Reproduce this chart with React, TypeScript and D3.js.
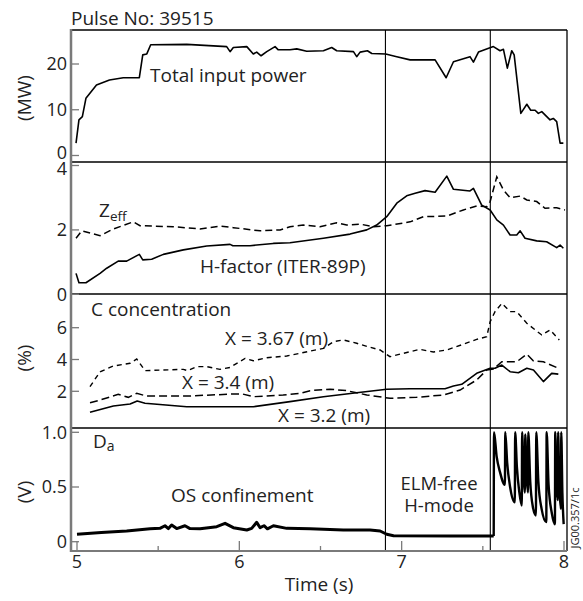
import React from "react";
import * as d3 from "d3";

// ---------- data ----------
const xTicks = [5, 6, 7, 8];
const xMinorTicks = [5.5, 6.5, 7.5];
const phaseBoundaries = [6.9, 7.546];

const powerTicks = [0, 10, 20];
const hTicks = [0, 2, 4];
const cTicks = [2, 4, 6];
const daTicks = [0, 0.5, 1.0];
const daTickLabels = ["0", "0.5", "1.0"];

const totalPower: [number, number][] = [
  [4.994, 2.7], [5.012, 7.8], [5.033, 8.5], [5.055, 12.5], [5.12, 15.4], [5.2, 16.5],
  [5.285, 17.0], [5.384, 17.0], [5.405, 22.0], [5.43, 22.2], [5.454, 24.2], [5.676, 24.3],
  [5.922, 23.8], [5.943, 22.7], [5.963, 23.6], [6.046, 23.8], [6.086, 22.2], [6.107, 22.6],
  [6.134, 21.8], [6.169, 22.7], [6.22, 23.8], [6.24, 23.1], [6.312, 23.1], [6.354, 23.3],
  [6.415, 22.8], [6.518, 22.9], [6.569, 23.6], [6.6, 22.9], [6.703, 22.7], [6.723, 21.6],
  [6.744, 22.6], [6.789, 22.9], [6.816, 22.3], [6.902, 22.2], [6.97, 21.6], [7.052, 20.9],
  [7.206, 20.9], [7.274, 17.0], [7.319, 20.5], [7.421, 21.6], [7.442, 20.4], [7.473, 22.6],
  [7.565, 23.8], [7.606, 22.9], [7.627, 23.2], [7.651, 19.1], [7.678, 22.9], [7.693, 22.0],
  [7.734, 9.2], [7.771, 11.2], [7.795, 9.9], [7.822, 9.9], [7.842, 9.2], [7.863, 9.6],
  [7.914, 7.8], [7.934, 8.1], [7.955, 7.4], [7.976, 2.7], [7.996, 2.7],
];

const zeff: [number, number][] = [
  [4.994, 1.74], [5.029, 1.97], [5.142, 1.82], [5.224, 2.03], [5.347, 2.25], [5.388, 2.13],
  [5.593, 2.1], [5.758, 2.03], [5.881, 2.12], [5.963, 2.07], [6.128, 1.97], [6.251, 2.0],
  [6.312, 2.1], [6.394, 2.15], [6.497, 2.1], [6.6, 2.22], [6.661, 2.15], [6.744, 2.18],
  [6.826, 2.1], [6.908, 2.13], [7.052, 2.25], [7.134, 2.41], [7.278, 2.43], [7.38, 2.62],
  [7.462, 2.74], [7.524, 2.72], [7.545, 2.88], [7.586, 3.65], [7.627, 3.24], [7.668, 3.0],
  [7.73, 3.05], [7.771, 2.93], [7.832, 2.88], [7.883, 2.67], [7.955, 2.69], [8.006, 2.62],
];

const hFactor: [number, number][] = [
  [4.994, 0.65], [5.012, 0.36], [5.055, 0.36], [5.142, 0.65], [5.183, 0.81], [5.254, 1.03],
  [5.306, 1.03], [5.384, 1.24], [5.405, 1.07], [5.46, 1.09], [5.532, 1.24], [5.655, 1.38],
  [5.799, 1.5], [5.943, 1.55], [5.96, 1.51], [6.066, 1.51], [6.209, 1.58], [6.312, 1.6],
  [6.518, 1.74], [6.682, 1.87], [6.785, 2.0], [6.846, 2.15], [6.908, 2.41], [6.97, 2.83],
  [7.031, 3.06], [7.083, 3.14], [7.144, 3.22], [7.206, 3.17], [7.278, 3.67], [7.319, 3.26],
  [7.421, 3.21], [7.442, 3.29], [7.493, 2.77], [7.545, 2.62], [7.586, 2.31], [7.627, 2.15],
  [7.668, 1.84], [7.709, 1.84], [7.73, 1.97], [7.76, 1.74], [7.832, 1.66], [7.893, 1.63],
  [7.955, 1.45], [7.976, 1.53], [7.996, 1.43],
];

const c367: [number, number][] = [
  [5.08, 2.29], [5.142, 3.23], [5.224, 3.59], [5.327, 3.76], [5.368, 4.03], [5.419, 3.3],
  [5.655, 3.38], [5.68, 3.3], [5.737, 3.55], [5.799, 3.55], [5.881, 3.38], [5.943, 3.5],
  [6.035, 4.07], [6.086, 3.92], [6.169, 4.11], [6.292, 4.22], [6.374, 4.39], [6.436, 4.53],
  [6.518, 4.7], [6.58, 5.12], [6.641, 5.23], [6.723, 5.02], [6.805, 4.77], [6.867, 4.6],
  [6.928, 4.18], [7.011, 4.39], [7.113, 4.64], [7.195, 4.47], [7.278, 4.6], [7.38, 4.96],
  [7.462, 5.27], [7.524, 5.43], [7.545, 6.38], [7.575, 7.01], [7.617, 7.53], [7.668, 7.01],
  [7.709, 7.01], [7.771, 6.28], [7.863, 5.54], [7.914, 5.86], [7.971, 5.23],
];

const c34: [number, number][] = [
  [5.08, 1.28], [5.142, 1.45], [5.254, 1.81], [5.316, 1.62], [5.368, 1.87], [5.429, 1.7],
  [5.68, 1.7], [5.963, 1.83], [6.02, 1.83], [6.086, 1.66], [6.27, 1.77], [6.374, 1.87],
  [6.436, 2.04], [6.559, 2.13], [6.661, 2.04], [6.785, 1.77], [6.928, 1.56], [7.092, 1.62],
  [7.257, 1.77], [7.36, 2.08], [7.462, 2.71], [7.524, 3.34], [7.565, 3.4], [7.617, 3.86],
  [7.709, 3.86], [7.771, 4.33], [7.812, 3.91], [7.873, 3.86], [7.965, 3.45],
];

const c32: [number, number][] = [
  [5.08, 0.68], [5.224, 1.08], [5.327, 1.2], [5.371, 1.39], [5.419, 1.25], [5.676, 1.03],
  [6.086, 1.03], [6.312, 1.35], [6.518, 1.66], [6.723, 1.91], [6.908, 2.13], [7.052, 2.16],
  [7.267, 2.16], [7.319, 2.33], [7.37, 2.44], [7.462, 3.13], [7.545, 3.45], [7.575, 3.45],
  [7.617, 3.65], [7.668, 3.23], [7.719, 3.17], [7.771, 3.45], [7.812, 3.34], [7.873, 2.61],
  [7.924, 3.13], [7.965, 3.08],
];

const dAlphaBase: [number, number][] = [
  [5.0, 0.068], [5.15, 0.085], [5.306, 0.098], [5.45, 0.118], [5.511, 0.122], [5.542, 0.146],
  [5.563, 0.12], [5.583, 0.153], [5.614, 0.12], [5.665, 0.146], [5.696, 0.12], [5.758, 0.118],
  [5.861, 0.137], [5.912, 0.168], [5.963, 0.128], [6.046, 0.107], [6.076, 0.122], [6.107, 0.177],
  [6.128, 0.128], [6.152, 0.146], [6.173, 0.118], [6.21, 0.146], [6.292, 0.122], [6.436, 0.118],
  [6.641, 0.107], [6.805, 0.107], [6.867, 0.098], [6.908, 0.068], [6.95, 0.055], [7.3, 0.052],
  [7.545, 0.052], [7.567, 0.052],
];

const dAlphaElm: [number, number][] = [
  [7.567, 0.052], [7.569, 1.0], [7.585, 0.78], [7.605, 0.64], [7.636, 0.52],
  [7.638, 1.0], [7.65, 0.72], [7.668, 0.5], [7.697, 0.36],
  [7.699, 1.0], [7.71, 0.68], [7.725, 0.45], [7.74, 0.33],
  [7.742, 1.0], [7.75, 0.62], [7.759, 0.45],
  [7.761, 0.98], [7.77, 0.6], [7.778, 0.45],
  [7.78, 1.0], [7.792, 0.55], [7.808, 0.32], [7.827, 0.24],
  [7.829, 1.0], [7.842, 0.55], [7.862, 0.3], [7.891, 0.18],
  [7.893, 1.0], [7.905, 0.52], [7.925, 0.26], [7.944, 0.16],
  [7.946, 1.0], [7.953, 0.55], [7.962, 0.38],
  [7.964, 1.0], [7.97, 0.55], [7.981, 0.3],
  [7.983, 1.0], [7.99, 0.45], [7.998, 0.16],
];

// ---------- layout ----------
const W = 583;
const H = 601;
const L = 71;
const R = 567;
const TOP = 30;
const BOTTOM = 551;
const separators = [162, 294, 428];
const FONT = "'Open Sans', 'Noto Sans', sans-serif";
const AXIS_GREY = "#7a7a7a";

const x = d3.scaleLinear().domain([5, 8]).range([77, 564]);
const y1 = d3.scaleLinear().domain([0, 20]).range([155.5, 64]);
const y2 = d3.scaleLinear().domain([0, 4]).range([294.3, 165.5]);
const y3 = d3.scaleLinear().domain([2, 6]).range([391.3, 327.7]);
const y4 = d3.scaleLinear().domain([0, 1]).range([541.7, 432.3]);

const mkLine = (y: d3.ScaleLinear<number, number>, curve: d3.CurveFactory = d3.curveLinear) =>
  d3
    .line<[number, number]>()
    .x((d) => x(d[0]))
    .y((d) => y(d[1]))
    .curve(curve);

export default function App() {
  const yTickGroups: {
    scale: d3.ScaleLinear<number, number>;
    ticks: number[];
    labels: string[];
    nudge: number[];
  }[] = [
    { scale: y1, ticks: powerTicks, labels: powerTicks.map(String), nudge: [-3, 0, 0] },
    { scale: y2, ticks: hTicks, labels: hTicks.map(String), nudge: [0, 0, 3.5] },
    { scale: y3, ticks: cTicks, labels: cTicks.map(String), nudge: [0, 0, 0] },
    { scale: y4, ticks: daTicks, labels: daTickLabels, nudge: [0, 0, 0] },
  ];

  return (
    <svg
      width={W}
      height={H}
      style={{ position: "absolute", left: 0, top: 0, background: "#fff" }}
      fontFamily={FONT}
    >
      <rect x={0} y={0} width={W} height={H} fill="#fff" />

      {/* frame */}
      <line x1={L} x2={R} y1={TOP} y2={TOP} stroke="#000" strokeWidth={1.3} />
      {separators.map((s) => (
        <line key={s} x1={L} x2={R} y1={s} y2={s} stroke="#000" strokeWidth={1.3} />
      ))}
      <line x1={R} x2={R} y1={TOP} y2={BOTTOM} stroke="#000" strokeWidth={1.3} />
      {phaseBoundaries.map((t) => (
        <line key={t} x1={x(t)} x2={x(t)} y1={TOP} y2={BOTTOM} stroke="#000" strokeWidth={1.1} />
      ))}

      {/* y ticks + labels */}
      {yTickGroups.map((g, gi) =>
        g.ticks.map((t, i) => (
          <g key={`${gi}-${i}`}>
            <line x1={L} x2={L + 8} y1={g.scale(t)} y2={g.scale(t)} stroke={AXIS_GREY} strokeWidth={1.3} />
            <text
              x={67}
              y={g.scale(t) + g.nudge[i]}
              dy="0.36em"
              textAnchor="end"
              fontSize={18}
              fill="#222"
            >
              {g.labels[i]}
            </text>
          </g>
        ))
      )}

      {/* x ticks */}
      {xTicks.map((t) => (
        <g key={t}>
          <line x1={x(t)} x2={x(t)} y1={BOTTOM} y2={BOTTOM - 10} stroke={AXIS_GREY} strokeWidth={1.3} />
          <text x={x(t)} y={568} textAnchor="middle" fontSize={18} fill="#222">
            {t}
          </text>
        </g>
      ))}
      {xMinorTicks.map((t) => (
        <line key={t} x1={x(t)} x2={x(t)} y1={BOTTOM} y2={BOTTOM - 5} stroke={AXIS_GREY} strokeWidth={1.3} />
      ))}

      {/* axes (grey) */}
      <line x1={L} x2={L} y1={TOP - 1} y2={BOTTOM + 1} stroke={AXIS_GREY} strokeWidth={2.5} />
      <line x1={L} x2={R} y1={BOTTOM} y2={BOTTOM} stroke={AXIS_GREY} strokeWidth={2} />

      {/* series */}
      <path d={mkLine(y1)(totalPower) ?? ""} fill="none" stroke="#000" strokeWidth={1.6} strokeLinejoin="round" />
      <path d={mkLine(y2)(zeff) ?? ""} fill="none" stroke="#000" strokeWidth={1.5} strokeDasharray="7,4" />
      <path d={mkLine(y2)(hFactor) ?? ""} fill="none" stroke="#000" strokeWidth={1.6} strokeLinejoin="round" />
      <path d={mkLine(y3)(c367) ?? ""} fill="none" stroke="#000" strokeWidth={1.4} strokeDasharray="5,4" />
      <path d={mkLine(y3)(c34) ?? ""} fill="none" stroke="#000" strokeWidth={1.5} strokeDasharray="8,4" />
      <path d={mkLine(y3)(c32) ?? ""} fill="none" stroke="#000" strokeWidth={1.6} strokeLinejoin="round" />
      <path d={mkLine(y4)(dAlphaBase) ?? ""} fill="none" stroke="#000" strokeWidth={3} strokeLinejoin="round" />
      <path d={mkLine(y4, d3.curveMonotoneX)(dAlphaElm) ?? ""} fill="none" stroke="#000" strokeWidth={2.4} strokeLinejoin="round" />

      {/* texts */}
      <text x={71} y={25} fontSize={19} fill="#222">Pulse No: 39515</text>
      <text transform="translate(31,98) rotate(-90)" textAnchor="middle" fontSize={19} fill="#222">(MW)</text>
      <text transform="translate(31,358) rotate(-90)" textAnchor="middle" fontSize={19} fill="#222">(%)</text>
      <text transform="translate(31,492) rotate(-90)" textAnchor="middle" fontSize={19} fill="#222">(V)</text>

      <text x={150} y={82} fontSize={19} fill="#222">Total input power</text>
      <text x={99} y={216.5} fontSize={19} fill="#222">
        Z<tspan fontSize={13.5} dy={4}>eff</tspan>
      </text>
      <text x={200} y={272.5} fontSize={19} fill="#222">H-factor (ITER-89P)</text>
      <text x={91} y={316} fontSize={19} fill="#222">C concentration</text>
      <text x={225} y={344.5} fontSize={19} fill="#222">X = 3.67 (m)</text>
      <text x={182} y={389} fontSize={19} fill="#222">X = 3.4 (m)</text>
      <text x={278} y={421.5} fontSize={19} fill="#222">X = 3.2 (m)</text>
      <text x={93} y={448} fontSize={19} fill="#222">
        D<tspan fontSize={14} dy={3}>a</tspan>
      </text>
      <text x={171} y={501.5} fontSize={19} fill="#222">OS confinement</text>
      <text textAnchor="middle" fontSize={18.5} fill="#222">
        <tspan x={439} y={490}>ELM-free</tspan>
        <tspan x={439} y={511.5}>H-mode</tspan>
      </text>
      <text x={319} y={591} textAnchor="middle" fontSize={19} fill="#222">Time (s)</text>
      <text transform="translate(579,518) rotate(-90)" textAnchor="middle" fontSize={11} fill="#222">JG00.357/1c</text>
    </svg>
  );
}
